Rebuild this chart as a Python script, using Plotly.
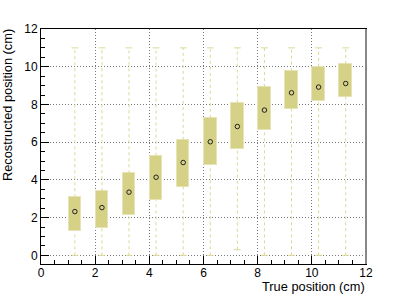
import plotly.graph_objects as go

# ---- data ----
true_pos = [1.25, 2.25, 3.25, 4.25, 5.25, 6.25, 7.25, 8.25, 9.25, 10.25, 11.25]
q1 = [1.29, 1.43, 2.14, 2.92, 3.64, 4.81, 5.66, 6.65, 7.77, 8.16, 8.42]
q3 = [3.08, 3.40, 4.35, 5.29, 6.12, 7.29, 8.10, 8.92, 9.79, 10.00, 10.14]
mean = [2.32, 2.53, 3.35, 4.14, 4.92, 6.02, 6.83, 7.70, 8.62, 8.92, 9.11]
whisk_low = [0.0, 0.0, 0.0, 0.0, 0.0, 0.0, 0.3, 0.0, 0.0, 0.0, 0.0]
whisk_high = [11.0, 11.0, 11.0, 11.0, 11.0, 11.0, 11.0, 11.0, 11.0, 11.0, 11.0]

x_ticks = [0, 2, 4, 6, 8, 10, 12]
y_ticks = [0, 2, 4, 6, 8, 10, 12]

BOX_W = 0.46
CAP_W = 0.25
FILL = "#d5d186"
EDGE = "#e6e3b4"
WHISK = "#dcd896"

fig = go.Figure()

# dashed whiskers (outside the boxes)
wx, wy = [], []
for x, lo, a, b, hi in zip(true_pos, whisk_low, q1, q3, whisk_high):
    wx += [x, x, None, x, x, None]
    wy += [lo, a, None, b, hi, None]
fig.add_trace(go.Scatter(x=wx, y=wy, mode="lines",
                         line=dict(color=WHISK, width=1, dash="3px,3px"),
                         hoverinfo="skip", showlegend=False))

# whisker caps
cx, cy = [], []
for x, lo, hi in zip(true_pos, whisk_low, whisk_high):
    cx += [x - CAP_W / 2, x + CAP_W / 2, None, x - CAP_W / 2, x + CAP_W / 2, None]
    cy += [hi, hi, None, lo, lo, None]
fig.add_trace(go.Scatter(x=cx, y=cy, mode="lines",
                         line=dict(color=WHISK, width=1),
                         hoverinfo="skip", showlegend=False))

# boxes
fig.add_trace(go.Bar(x=true_pos, y=[b - a for a, b in zip(q1, q3)], base=q1,
                     width=BOX_W, marker=dict(color=FILL, line=dict(color=EDGE, width=1)),
                     showlegend=False))

# mean markers
fig.add_trace(go.Scatter(x=true_pos, y=mean, mode="markers",
                         marker=dict(symbol="circle-open", size=4.5, color="#222",
                                     line=dict(width=1, color="#222")),
                         showlegend=False))

axis_common = dict(
    showline=True, linecolor="black", linewidth=1, mirror=True,
    ticks="inside", ticklen=8, tickcolor="black", tickwidth=1,
    showgrid=True, gridcolor="#777", gridwidth=1, griddash="1px,2px",
    zeroline=False,
    tickfont=dict(family="Liberation Sans, Arial, sans-serif", size=12, color="black"),
    minor=dict(ticks="inside", ticklen=4, tickcolor="black", dtick=0.5, showgrid=False),
)

fig.update_xaxes(range=[0, 12], tickvals=x_ticks, ticktext=[str(v) for v in x_ticks],
                 ticklabelstandoff=-2, **axis_common)
fig.update_yaxes(range=[-0.46, 12], tickvals=y_ticks, ticktext=[str(v) for v in y_ticks],
                 **axis_common)

title_font = dict(family="Liberation Sans, Arial, sans-serif", size=12.8, color="black")
fig.add_annotation(text="True position (cm)", xref="paper", yref="paper",
                   x=1, y=0, xanchor="right", yanchor="top", yshift=-13.5, borderpad=0,
                   showarrow=False, font=title_font)
fig.add_annotation(text="Recostructed position (cm)", xref="paper", yref="paper",
                   x=0, y=1, xanchor="center", yanchor="top", xshift=-34, yshift=1,
                   borderpad=0, textangle=-90, showarrow=False, font=title_font)

# right frame edge (grey shadow)
fig.add_shape(type="line", xref="paper", yref="paper", x0=1, x1=1, y0=0, y1=1,
              line=dict(color="#888", width=2))

fig.update_layout(
    width=407, height=294,
    margin=dict(l=41, r=41, t=29, b=30),
    plot_bgcolor="white", paper_bgcolor="white",
    bargap=0, showlegend=False,
)

fig.write_html("out.html", config={"displayModeBar": False},
               post_script="document.body.style.margin='0';document.body.style.overflow='hidden';")
